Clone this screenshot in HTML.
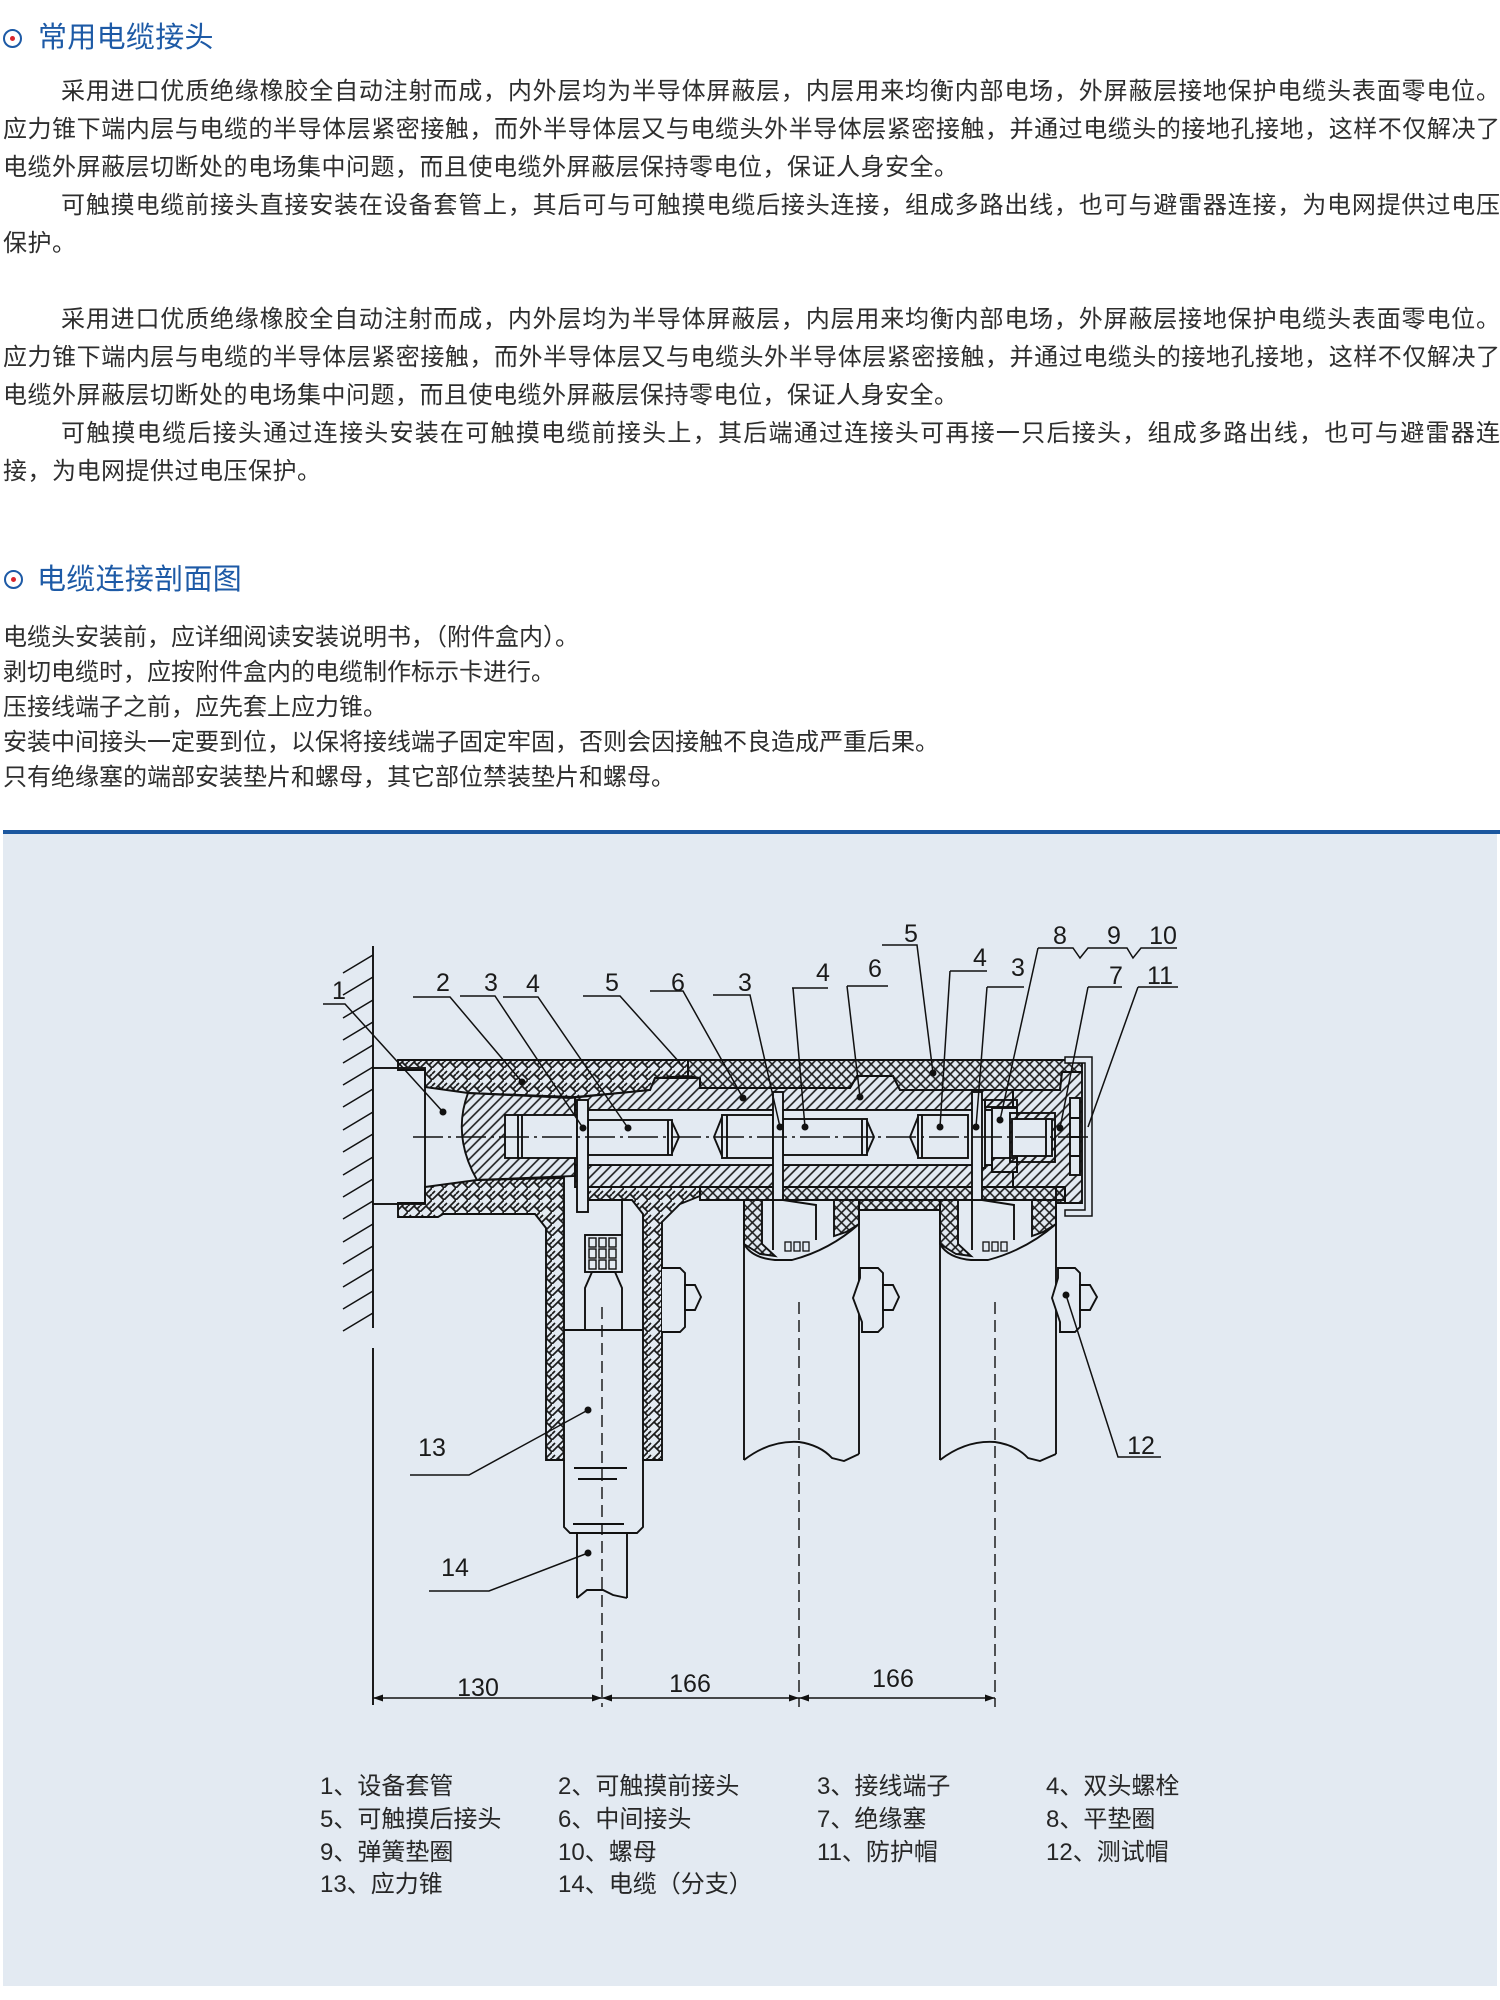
<!DOCTYPE html>
<html><head><meta charset="utf-8">
<style>
html,body{margin:0;padding:0;background:#fff;}
#pg{position:relative;width:1500px;height:2000px;overflow:hidden;font-family:"Liberation Sans","Noto Sans CJK SC",sans-serif;color:#2e2e2e;}
.l{position:absolute;font-size:24px;line-height:38px;white-space:nowrap;letter-spacing:0.5px;}
.j{white-space:normal;text-align:justify;text-align-last:justify;letter-spacing:0;}
.h{position:absolute;font-size:29px;line-height:40px;color:#1d5aa6;white-space:nowrap;letter-spacing:0.3px;}
.ic{position:absolute;width:15px;height:15px;border:2px solid #1d5aa6;border-radius:50%;}
.ic::after{content:"";position:absolute;left:5px;top:5px;width:5px;height:5px;border-radius:50%;background:#d9262c;}
.s{position:absolute;left:3px;font-size:24px;line-height:35px;white-space:nowrap;}
.g{position:absolute;font-size:24px;line-height:33px;white-space:nowrap;color:#262626;}
</style></head>
<body><div id="pg">

<div class="ic" style="left:3px;top:29px"></div>
<div class="h" style="left:38px;top:18px">常用电缆接头</div>

<div class="l j" style="left:61px;top:73px;width:1439px">采用进口优质绝缘橡胶全自动注射而成，内外层均为半导体屏蔽层，内层用来均衡内部电场，外屏蔽层接地保护电缆头表面零电位。</div>
<div class="l j" style="left:3px;top:111px;width:1497px">应力锥下端内层与电缆的半导体层紧密接触，而外半导体层又与电缆头外半导体层紧密接触，并通过电缆头的接地孔接地，这样不仅解决了</div>
<div class="l" style="left:3px;top:149px">电缆外屏蔽层切断处的电场集中问题，而且使电缆外屏蔽层保持零电位，保证人身安全。</div>
<div class="l j" style="left:61px;top:187px;width:1439px">可触摸电缆前接头直接安装在设备套管上，其后可与可触摸电缆后接头连接，组成多路出线，也可与避雷器连接，为电网提供过电压</div>
<div class="l" style="left:3px;top:225px">保护。</div>

<div class="l j" style="left:61px;top:301px;width:1439px">采用进口优质绝缘橡胶全自动注射而成，内外层均为半导体屏蔽层，内层用来均衡内部电场，外屏蔽层接地保护电缆头表面零电位。</div>
<div class="l j" style="left:3px;top:339px;width:1497px">应力锥下端内层与电缆的半导体层紧密接触，而外半导体层又与电缆头外半导体层紧密接触，并通过电缆头的接地孔接地，这样不仅解决了</div>
<div class="l" style="left:3px;top:377px">电缆外屏蔽层切断处的电场集中问题，而且使电缆外屏蔽层保持零电位，保证人身安全。</div>
<div class="l j" style="left:61px;top:415px;width:1439px">可触摸电缆后接头通过连接头安装在可触摸电缆前接头上，其后端通过连接头可再接一只后接头，组成多路出线，也可与避雷器连</div>
<div class="l" style="left:3px;top:453px">接，为电网提供过电压保护。</div>

<div class="ic" style="left:4px;top:570px"></div>
<div class="h" style="left:37px;top:560px">电缆连接剖面图</div>

<div class="s" style="top:620px">电缆头安装前，应详细阅读安装说明书，（附件盒内）。</div>
<div class="s" style="top:655px">剥切电缆时，应按附件盒内的电缆制作标示卡进行。</div>
<div class="s" style="top:690px">压接线端子之前，应先套上应力锥。</div>
<div class="s" style="top:725px">安装中间接头一定要到位，以保将接线端子固定牢固，否则会因接触不良造成严重后果。</div>
<div class="s" style="top:760px">只有绝缘塞的端部安装垫片和螺母，其它部位禁装垫片和螺母。</div>

<div style="position:absolute;left:3px;top:830px;width:1497px;height:4px;background:#1b579f"></div>
<div style="position:absolute;left:3px;top:834px;width:1494px;height:1152px;background:#e3eaf2"></div>

<svg width="1500" height="2000" viewBox="0 0 1500 2000" style="position:absolute;left:0;top:0">
<defs>
<pattern id="dg" width="7" height="7" patternUnits="userSpaceOnUse" patternTransform="rotate(45)"><line x1="3.5" y1="0" x2="3.5" y2="7" stroke="#1a1a1a" stroke-width="1.6"/></pattern>
<pattern id="cx" width="7" height="7" patternUnits="userSpaceOnUse" patternTransform="rotate(45)"><path d="M3.5,0V7M0,3.5H7" stroke="#1a1a1a" stroke-width="1.6"/></pattern>
<pattern id="hb" width="12" height="12" patternUnits="userSpaceOnUse"><path d="M0,12L6,6L12,12M6,6L12,0M0,6L3,3M9,9L12,6" fill="none" stroke="#1a1a1a" stroke-width="1.7"/></pattern>
</defs>

<g stroke="#111" stroke-width="1.9" fill="none" stroke-linejoin="miter">
<!-- wall -->
<path d="M373,946V1328M373,1348V1705"/>
<path stroke-width="1.5" d="M373,955l-30,18M373,977l-30,18M373,1000l-30,18M373,1022l-30,18M373,1045l-30,18M373,1067l-30,18M373,1089l-30,18M373,1112l-30,18M373,1134l-30,18M373,1157l-30,18M373,1179l-30,18M373,1201l-30,18M373,1224l-30,18M373,1246l-30,18M373,1269l-30,18M373,1291l-30,18M373,1313l-30,18"/>

<!-- bushing -->
<rect x="373" y="1068" width="52" height="136" fill="#e3eaf2"/>

<!-- front connector herringbone -->
<path fill="url(#hb)" d="M398,1060H688V1076L655,1078L650,1090L570,1098L468,1093L425,1087V1070H398Z"/>
<path fill="url(#hb)" d="M398,1203H425V1187L477,1180L564,1178V1460H546V1228L535,1214H443L438,1217H398Z"/>
<path fill="url(#hb)" d="M588,1187H700V1196L680,1204L662,1222V1460H643V1214L632,1200H588Z"/>

<!-- stress insert -->
<path fill="url(#dg)" d="M468,1093L575,1097V1176L477,1180Q452,1136 468,1093Z"/>
<!-- upper diag band -->
<path fill="url(#dg)" d="M575,1097L650,1090L655,1078H700V1088H850L857,1076H893L900,1090H1013V1110H575Z"/>
<!-- top crosshatch -->
<path fill="url(#cx)" d="M688,1060H1082V1072H1062L1060,1090H900L893,1076H857L850,1088H700V1078L688,1076Z"/>
<!-- right end diag -->
<path fill="url(#dg)" d="M1013,1090H1060L1062,1072H1082V1203H1065V1187H1013Z"/>
<!-- lower diag band -->
<path fill="url(#dg)" d="M575,1165H1013V1187H575Z"/>
<!-- lower crosshatch -->
<path fill="url(#cx)" d="M700,1187H1065V1200H700Z"/>
<path fill="url(#cx)" d="M744,1200H762V1244L775,1256L760,1254L744,1244Z"/>
<path fill="url(#cx)" d="M834,1200H859V1224L846,1232L834,1236Z"/>
<path fill="url(#cx)" d="M859,1200H940V1210H859Z"/>
<path fill="url(#cx)" d="M940,1200H958V1244L971,1256L956,1254L940,1244Z"/>
<path fill="url(#cx)" d="M1032,1200H1056V1224L1043,1232L1032,1236Z"/>
<path fill="url(#cx)" d="M1056,1187H1065V1203H1056Z"/>

<!-- bore -->
<rect x="575" y="1110" width="438" height="55" fill="#e3eaf2"/>

<!-- bolts -->
<rect x="505" y="1115" width="72" height="43" fill="#e3eaf2"/>
<path d="M518,1115V1158M522,1115V1158"/>
<rect x="588" y="1120" width="84" height="35" fill="#e3eaf2"/>
<path d="M668,1120V1155M672,1122L679,1137L672,1153"/>
<rect x="722" y="1115" width="51" height="43" fill="#e3eaf2"/>
<path d="M727,1115V1158M722,1117L714,1137L722,1156"/>
<rect x="783" y="1119" width="84" height="36" fill="#e3eaf2"/>
<path d="M862,1119V1155M867,1121L874,1137L867,1153"/>
<rect x="918" y="1115" width="50" height="43" fill="#e3eaf2"/>
<path d="M922,1115V1158M918,1117L910,1137L918,1156"/>

<!-- washers / nut / plug cavity -->
<rect x="979" y="1100" width="6" height="68" fill="#e3eaf2"/>
<rect x="985" y="1100" width="32" height="7" fill="url(#dg)"/>
<rect x="992" y="1108" width="25" height="64" fill="#e3eaf2"/>
<rect x="992" y="1158" width="25" height="14" fill="url(#dg)"/>
<rect x="1010" y="1113" width="45" height="49" fill="url(#dg)"/>
<rect x="1012" y="1119" width="40" height="37" fill="#e3eaf2"/>
<path d="M1046,1119V1156"/>
<rect x="1070" y="1098" width="10" height="77" fill="#e3eaf2"/>
<path d="M1070,1118H1080M1070,1137H1080M1070,1156H1080"/>

<!-- end cap 11 -->
<path fill="#e3eaf2" stroke-width="1.5" d="M1065,1057H1092V1216H1065V1210H1085V1063H1065Z"/>

<!-- blades / terminals -->
<rect x="577" y="1100" width="11" height="112" fill="#e3eaf2"/>
<path d="M588,1200H622V1235"/>
<rect x="585" y="1235" width="37" height="37" fill="#e3eaf2"/>
<g stroke-width="1.4">
<rect x="589" y="1238" width="7" height="9"/><rect x="599" y="1238" width="7" height="9"/><rect x="609" y="1238" width="7" height="9"/>
<rect x="589" y="1249" width="7" height="9"/><rect x="599" y="1249" width="7" height="9"/><rect x="609" y="1249" width="7" height="9"/>
<rect x="589" y="1260" width="7" height="9"/><rect x="599" y="1260" width="7" height="9"/><rect x="609" y="1260" width="7" height="9"/>
</g>
<path d="M592,1272L585,1288V1330M615,1272L622,1288V1330M592,1272H615"/>
<path d="M564,1330H643"/>

<rect x="773" y="1092" width="10" height="108" fill="#e3eaf2"/>
<path d="M773,1200V1250M783,1200L816,1205V1240"/>
<g stroke-width="1.3"><rect x="785" y="1242" width="6" height="9"/><rect x="794" y="1242" width="6" height="9"/><rect x="803" y="1242" width="6" height="9"/></g>
<rect x="972" y="1092" width="10" height="108" fill="#e3eaf2"/>
<path d="M972,1200V1250M982,1200L1014,1205V1240"/>
<g stroke-width="1.3"><rect x="983" y="1242" width="6" height="9"/><rect x="992" y="1242" width="6" height="9"/><rect x="1001" y="1242" width="6" height="9"/></g>

<!-- stub bottoms and outlines -->
<path d="M744,1244Q752,1258 775,1260H792Q830,1250 859,1224"/>
<path d="M940,1244Q948,1258 971,1260H988Q1026,1250 1056,1224"/>
<path d="M744,1200V1460M859,1200V1454M940,1200V1460M1056,1200V1454"/>
<path d="M744,1460Q770,1440 799,1442Q820,1445 832,1458L844,1461L859,1454"/>
<path d="M940,1460Q966,1440 995,1442Q1016,1445 1028,1458L1040,1461L1056,1454"/>

<!-- test caps -->
<path fill="#e3eaf2" d="M662,1268H680L685,1273V1327L680,1332H662"/>
<path fill="#e3eaf2" d="M685,1285H695L701,1297L695,1310H685Z"/>
<path fill="#e3eaf2" d="M860,1268H878L883,1273V1327L878,1332H862V1322L853,1298L860,1278Z"/>
<path fill="#e3eaf2" d="M883,1285H893L899,1297L893,1310H883Z"/>
<path fill="#e3eaf2" d="M1058,1268H1075L1080,1273V1327L1075,1332H1060V1322L1052,1298L1058,1278Z"/>
<path fill="#e3eaf2" d="M1080,1285H1090L1097,1297L1090,1310H1080Z"/>

<!-- cable 14 -->
<path d="M564,1460V1527L570,1533H637L643,1527V1460"/>
<path d="M577,1533V1598M627,1533V1598M577,1598L587,1590H603L613,1595L627,1598"/>
<path d="M574,1468H627M578,1479H617M573,1524H624"/>

<!-- axis -->
<path stroke-width="1.4" stroke-dasharray="30 5 3 5" d="M413,1137H1088"/>
<!-- dashed centerlines -->
<path stroke-width="1.4" stroke-dasharray="12 6" d="M602,1307V1707M799,1302V1707M995,1302V1707"/>

<!-- dimension line -->
<path stroke-width="1.5" d="M373,1698H995"/>
<g fill="#111" stroke="none">
<path d="M373,1698l10,-3.5v7z"/>
<path d="M602,1698l-10,-3.5v7z"/><path d="M602,1698l10,-3.5v7z"/>
<path d="M799,1698l-10,-3.5v7z"/><path d="M799,1698l10,-3.5v7z"/>
<path d="M995,1698l-10,-3.5v7z"/>
</g>

<!-- leaders -->
<g stroke-width="1.5">
<path d="M323,1004H345L443,1112"/>
<path d="M413,997H450L522,1082"/>
<path d="M460,996H495L583,1128"/>
<path d="M503,997H538L628,1128"/>
<path d="M583,996H620L680,1063"/>
<path d="M650,991H683L743,1098"/>
<path d="M713,995H750L780,1127"/>
<path d="M792,988H828M793,988L805,1127"/>
<path d="M847,986H888M847,986L860,1097"/>
<path d="M882,945H917L933,1073"/>
<path d="M950,971H987M950,971L940,1127"/>
<path d="M987,987H1024M987,987L976,1127"/>
<path d="M1038,948H1073L1080,958L1088,948H1127L1133,958L1141,948H1177M1038,948L1000,1120"/>
<path d="M1088,987H1122M1088,987L1060,1128"/>
<path d="M1138,987H1178M1138,987L1088,1127"/>
<path d="M1161,1457H1118L1066,1295"/>
<path d="M410,1475H469L588,1410"/>
<path d="M429,1591H489L588,1553"/>
</g>
</g>

<g fill="#111">
<circle cx="443" cy="1112" r="3.5"/><circle cx="522" cy="1082" r="3.5"/><circle cx="583" cy="1128" r="3.5"/>
<circle cx="628" cy="1128" r="3.5"/><circle cx="743" cy="1098" r="3.5"/><circle cx="780" cy="1127" r="3.5"/>
<circle cx="805" cy="1127" r="3.5"/><circle cx="860" cy="1097" r="3.5"/><circle cx="933" cy="1073" r="3.5"/>
<circle cx="940" cy="1127" r="3.5"/><circle cx="976" cy="1127" r="3.5"/><circle cx="1000" cy="1120" r="3.5"/>
<circle cx="1060" cy="1128" r="3.5"/><circle cx="1066" cy="1295" r="3.5"/><circle cx="588" cy="1410" r="3.5"/>
<circle cx="588" cy="1553" r="3.5"/>
</g>

<g font-family="Liberation Sans, sans-serif" font-size="25" fill="#1a1a1a" text-anchor="middle">
<text x="339" y="999">1</text>
<text x="443" y="991">2</text>
<text x="491" y="991">3</text>
<text x="533" y="992">4</text>
<text x="612" y="991">5</text>
<text x="678" y="991">6</text>
<text x="745" y="991">3</text>
<text x="823" y="981">4</text>
<text x="875" y="977">6</text>
<text x="911" y="942">5</text>
<text x="980" y="966">4</text>
<text x="1018" y="976">3</text>
<text x="1060" y="944">8</text>
<text x="1114" y="944">9</text>
<text x="1163" y="944">10</text>
<text x="1116" y="984">7</text>
<text x="1160" y="984">11</text>
<text x="1141" y="1454">12</text>
<text x="432" y="1456">13</text>
<text x="455" y="1576">14</text>
<text x="478" y="1696">130</text>
<text x="690" y="1692">166</text>
<text x="893" y="1687">166</text>
</g>
</svg>

<div class="g" style="left:320px;top:1770px">1、设备套管</div>
<div class="g" style="left:558px;top:1770px">2、可触摸前接头</div>
<div class="g" style="left:817px;top:1770px">3、接线端子</div>
<div class="g" style="left:1046px;top:1770px">4、双头螺栓</div>
<div class="g" style="left:320px;top:1803px">5、可触摸后接头</div>
<div class="g" style="left:558px;top:1803px">6、中间接头</div>
<div class="g" style="left:817px;top:1803px">7、绝缘塞</div>
<div class="g" style="left:1046px;top:1803px">8、平垫圈</div>
<div class="g" style="left:320px;top:1836px">9、弹簧垫圈</div>
<div class="g" style="left:558px;top:1836px">10、螺母</div>
<div class="g" style="left:817px;top:1836px">11、防护帽</div>
<div class="g" style="left:1046px;top:1836px">12、测试帽</div>
<div class="g" style="left:320px;top:1868px">13、应力锥</div>
<div class="g" style="left:558px;top:1868px">14、电缆（分支）</div>

</div></body></html>
